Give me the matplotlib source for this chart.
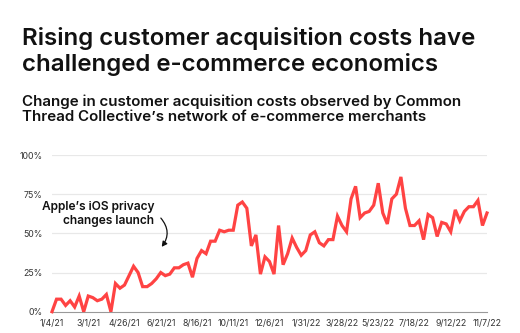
import numpy as np
import pandas as pd
import matplotlib
matplotlib.use('Agg')
import matplotlib.pyplot as plt
from matplotlib.patches import FancyArrowPatch

plt.rcParams['font.family'] = ['Inter', 'DejaVu Sans']

# weekly change in customer acquisition costs (%), starting 1/4/21
start_date = '2021-01-04'
cac_change = [0, 8, 8, 4, 7, 3, 10, 0, 10, 9,
              7, 8, 11, 0, 18, 15, 17, 23, 29, 25,
              16, 16, 18, 21, 25, 23, 24, 28, 28, 30,
              31, 22, 34, 39, 37, 45, 45, 52, 51, 52,
              52, 68, 70, 66, 42, 49, 24, 35, 32, 24,
              55, 30, 37, 47, 41, 36, 39, 49, 51, 44,
              42, 46, 46, 61, 55, 51, 72, 80, 60, 63,
              64, 68, 82, 63, 56, 72, 75, 86, 66, 55,
              55, 58, 46, 62, 60, 48, 57, 56, 51, 65,
              58, 64, 67, 67, 71, 55, 63]
y_ticks = [0, 25, 50, 75, 100]
tick_every = 8  # weeks between date labels

dates = pd.date_range(start_date, periods=len(cac_change), freq='7D')
tick_dates = dates[::tick_every]
tick_labels = [f'{d.month}/{d.day}/{d.year % 100}' for d in tick_dates]

fig = plt.figure(figsize=(5.2, 3.33), dpi=100)
ax = fig.add_axes([52 / 520, 21.3 / 333, 435 / 520, 156.7 / 333])

ax.plot(dates, cac_change, color='#ff4343', lw=2.3, solid_joinstyle='miter', clip_on=False, zorder=3)

ax.set_xlim(dates[0], dates[-1])
ax.set_ylim(0, 100)
ax.set_yticks(y_ticks)
ax.set_yticklabels([f'{v}%' for v in y_ticks])
ax.set_xticks(tick_dates)
ax.set_xticklabels(tick_labels)
ax.tick_params(length=0, labelsize=6.3, labelcolor='#333333')
ax.tick_params(axis='y', pad=7)
ax.tick_params(axis='x', pad=5)
for v in y_ticks[1:]:
    ax.axhline(v, color='#e8e8e8', lw=0.9, zorder=1)
for s in ['top', 'right', 'left']:
    ax.spines[s].set_visible(False)
ax.spines['bottom'].set_color('#999999')
ax.spines['bottom'].set_linewidth(0.8)

fig.text(22 / 520, 1 - 27 / 333, 'Rising customer acquisition costs have\nchallenged e-commerce economics',
         fontsize=17.3, fontweight='semibold', color='#111111', va='top', ha='left', linespacing=1.15)
fig.text(22 / 520, 1 - 94 / 333, 'Change in customer acquisition costs observed by Common\nThread Collective\u2019s network of e-commerce merchants',
         fontsize=10.9, fontweight='semibold', color='#111111', va='top', ha='left', linespacing=1.1)

# annotation
fig.text(154 / 520, 1 - 214 / 333, 'Apple\u2019s iOS privacy\nchanges launch', fontsize=8.6,
         fontweight='semibold', color='#111111', ha='right', va='center', linespacing=1.15)
arrow = FancyArrowPatch((159 / 520, 1 - 216 / 333), (160 / 520, 1 - 249 / 333),
                        transform=fig.transFigure, connectionstyle='arc3,rad=-0.45',
                        arrowstyle='-|>,head_length=3,head_width=1.6', lw=0.9, color='#111111')
fig.patches.append(arrow)

fig.savefig('out.png', dpi=100, facecolor='white')
